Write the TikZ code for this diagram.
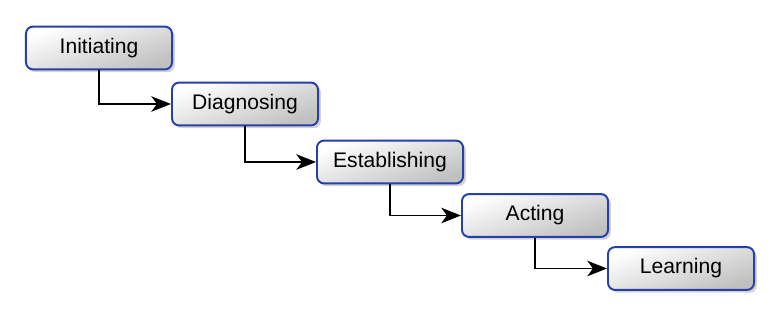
\documentclass[tikz,border=0pt]{standalone}
\usepackage{fontspec}
\setmainfont{Liberation Sans}
\usetikzlibrary{arrows.meta, positioning, shadows}
\definecolor{stepblue}{RGB}{38,64,170}
\definecolor{stepgray}{RGB}{192,192,192}
\tikzset{
  % phase boxes
  phasenode/.style={
    rectangle, rounded corners=5pt,
    draw=stepblue, line width=1.4pt,
    top color=white, bottom color=stepgray, shading angle=20,
    minimum width=3.65cm, minimum height=1.07cm,
    font=\fontsize{15}{17}\selectfont,
    text height=0.72em, text depth=0pt,
    drop shadow={shadow xshift=2pt, shadow yshift=-2pt, opacity=0.35}
  },
  arrowstyle/.style={
    -{Stealth[length=14pt, width=11pt, inset=4pt]}, line width=1.2pt, draw=black
  }
}
\begin{document}
\begin{tikzpicture}[x=0.025cm, y=-0.025cm]
  \useasboundingbox (0,0) rectangle (780,316);

  % --- phases ---
  \node[phasenode] (init)  at (99,48)    {Initiating};
  \node[phasenode] (diag)  at (245,104)  {Diagnosing};
  \node[phasenode] (estab) at (390,162)  {Establishing};
  \node[phasenode] (act)   at (535,215.5) {Acting};
  \node[phasenode] (learn) at (681,268.5) {Learning};

  % --- connectors ---
  \draw[arrowstyle] (init.south)  |- (diag.west);
  \draw[arrowstyle] (diag.south)  |- (estab.west);
  \draw[arrowstyle] (estab.south) |- (act.west);
  \draw[arrowstyle] (act.south)   |- (learn.west);

\end{tikzpicture}
\end{document}
